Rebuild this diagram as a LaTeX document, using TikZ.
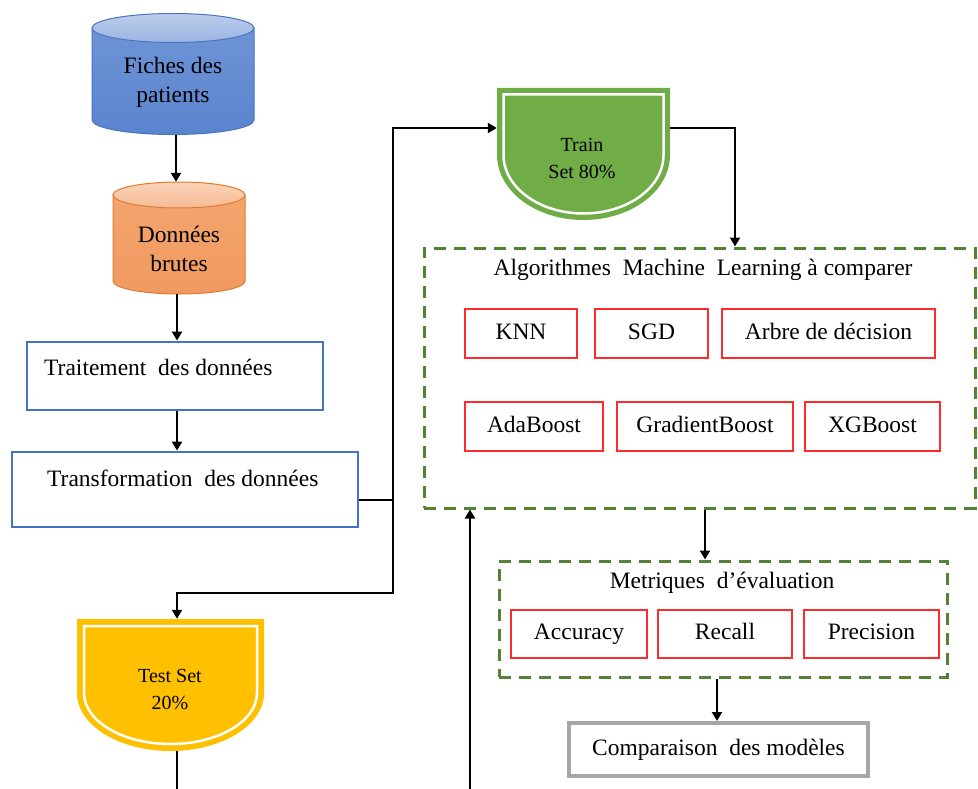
\documentclass[tikz,border=0pt]{standalone}
\usepackage{fontspec}
\setmainfont{Liberation Serif}
\usetikzlibrary{arrows.meta,calc}
\definecolor{boxblue}{HTML}{4472C4}
\definecolor{dgreen}{HTML}{548235}
\definecolor{tgreen}{HTML}{70AD47}
\definecolor{tyellow}{HTML}{FFC000}
\definecolor{rbox}{HTML}{FF2B2B}
\definecolor{gbox}{HTML}{A6A6A6}
\definecolor{blueT}{HTML}{6E94D6}
\definecolor{blueM}{HTML}{4472C4}
\definecolor{blueB}{HTML}{5A84CE}
\definecolor{blueE1}{HTML}{BCCDEB}
\definecolor{blueE2}{HTML}{9AB4E2}
\definecolor{blueL}{HTML}{4A74BE}
\definecolor{orT}{HTML}{F4A46E}
\definecolor{orM}{HTML}{E8792F}
\definecolor{orB}{HTML}{F09A60}
\definecolor{orE1}{HTML}{FAD3B8}
\definecolor{orE2}{HTML}{F5BB94}
\definecolor{orL}{HTML}{E07A33}
\begin{document}
\begin{tikzpicture}[x=1pt,y=-1pt,
  conn/.style={line width=2.6pt,black},
  arr/.style={conn,-{Triangle[width=10pt,length=9pt]}},
  txt/.style={font=\fontsize{23.5}{29}\selectfont,inner sep=0pt},
  stxt/.style={font=\fontsize{20}{27}\selectfont,inner sep=0pt,align=center},
  bluebox/.style={draw=boxblue,line width=2.8pt,fill=white,inner sep=0pt},
  redbox/.style={draw=rbox,line width=1.6pt,fill=white,inner sep=0pt,minimum height=49pt,
    text height=16pt,text depth=5pt,font=\fontsize{23.5}{29}\selectfont},
  dashbox/.style={draw=dgreen,line width=3pt,dash pattern=on 12pt off 8pt,inner sep=0pt},
  graybox/.style={draw=gbox,line width=4pt,fill=white,inner sep=0pt,
    text height=16pt,text depth=5pt,font=\fontsize{23.5}{29}\selectfont}
]
\useasboundingbox (0,0) rectangle (978,789);

% ---- Fiches des patients (cylinder)
\shade[top color=blueT,middle color=blueM,bottom color=blueB]
  (92,28) -- (92,120) arc[start angle=180,end angle=0,x radius=81,y radius=14.5] -- (254,28) -- cycle;
\draw[blueL,line width=1pt]
  (92,28) -- (92,120) arc[start angle=180,end angle=0,x radius=81,y radius=14.5] -- (254,28);
\shade[top color=blueE1,bottom color=blueE2,draw=blueL,line width=1pt] (173,28) ellipse[x radius=81,y radius=14.5];
\node[minimum width=162pt,minimum height=121.5pt,inner sep=0pt] (fiches) at (173,73.75) {};
\node[txt,align=center] (fichestxt) at (173,82) {Fiches des\\patients};

% ---- Donnees brutes (cylinder)
\shade[top color=orT,middle color=orM,bottom color=orB]
  (113,195) -- (113,281) arc[start angle=180,end angle=0,x radius=66,y radius=13] -- (245,195) -- cycle;
\draw[orL,line width=1pt]
  (113,195) -- (113,281) arc[start angle=180,end angle=0,x radius=66,y radius=13] -- (245,195);
\shade[top color=orE1,bottom color=orE2,draw=orL,line width=1pt] (179,195) ellipse[x radius=66,y radius=13];
\node[minimum width=132pt,minimum height=112pt,inner sep=0pt] (donnees) at (179,238) {};
\node[txt,align=center] (donneestxt) at (179,249) {Données\\brutes};

% ---- processing boxes
\node[bluebox,minimum width=296pt,minimum height=68pt] (trait) at (175,376) {};
\node[txt,anchor=west] (traittxt) at (44,367) {Traitement\ \ des données};
\node[bluebox,minimum width=346pt,minimum height=75pt] (trans) at (185,489.5) {};
\node[txt,anchor=west] (transtxt) at (47,478) {Transformation\ \ des données};

% ---- Train set shape
\fill[tgreen] (497,88) -- (670,88) -- (670,155) arc[start angle=0,end angle=180,x radius=86.5,y radius=65] -- cycle;
\draw[white,line width=2.5pt] (503.5,94.5) -- (663.5,94.5) -- (663.5,155) arc[start angle=0,end angle=180,x radius=80,y radius=58.5] -- cycle;
\node[minimum width=173pt,minimum height=132pt,inner sep=0pt] (train) at (583.5,154) {};
\node[stxt] (traintxt) at (582,158.5) {Train\\Set 80\%};

% ---- Test set shape
\fill[tyellow] (77,619) -- (264,619) -- (264,693) arc[start angle=0,end angle=180,x radius=93.5,y radius=58] -- cycle;
\draw[white,line width=2.5pt] (84,626) -- (257,626) -- (257,693) arc[start angle=0,end angle=180,x radius=86.5,y radius=51] -- cycle;
\node[minimum width=187pt,minimum height=132pt,inner sep=0pt] (test) at (170.5,685) {};
\node[stxt] (testtxt) at (170,689.5) {Test Set\\20\%};

% ---- Algorithms box
\node[dashbox,minimum width=551pt,minimum height=260pt] (algo) at (699.5,378) {};
\node[txt] (algotxt) at (703,270) {Algorithmes\ \ Machine\ \ Learning à comparer};
\node[redbox,minimum width=112pt] (knn) at (521,333.5) {KNN};
\node[redbox,minimum width=113pt] (sgd) at (651.5,333.5) {SGD};
\node[redbox,minimum width=213pt] (arbre) at (828.5,333.5) {Arbre de décision};
\node[redbox,minimum width=138pt] (ada) at (534,426.5) {AdaBoost};
\node[redbox,minimum width=176pt] (grad) at (705,426.5) {GradientBoost};
\node[redbox,minimum width=135pt] (xgb) at (872.5,426.5) {XGBoost};

% ---- Metrics box
\node[dashbox,minimum width=448pt,minimum height=116pt] (metr) at (723,619) {};
\node[txt] (metrtxt) at (722,583) {Metriques\ \ d’évaluation};
\node[redbox,minimum width=136pt,minimum height=48pt] (acc) at (579,634) {Accuracy};
\node[redbox,minimum width=134pt,minimum height=48pt] (rec) at (725,634) {Recall};
\node[redbox,minimum width=135pt,minimum height=48pt] (prec) at (871.5,634) {Precision};

% ---- Comparison box
\node[graybox,minimum width=299pt,minimum height=53pt] (comp) at (718.5,749.5) {Comparaison\ \ des modèles};

% ---- connectors
\coordinate (x176) at (176,0);
\coordinate (x177) at (177,0);
\draw[arr] (fiches.south -| x176) -- (donnees.north -| x176);
\draw[arr] (donnees.south -| x177) -- (trait.north -| x177);
\draw[arr] (trait.south -| x177) -- (trans.north -| x177);

\coordinate (b1) at (393,500);
\coordinate (b2) at (393,128);
\coordinate (b3) at (393,593);
\coordinate (b4) at (177,593);
\draw[arr] (trans.east |- b1) -- (b1) -- (b2) -- (train.west |- b2);
\draw[arr] (b1) -- (b3) -- (b4) -- (test.north -| b4);

\coordinate (tr) at (735,128);
\draw[arr] (train.east |- tr) -- (tr) -- (algo.north -| tr);

\coordinate (x705) at (705,0);
\draw[arr] (algo.south -| x705) -- (metr.north -| x705);
\coordinate (x717) at (717,0);
\draw[arr] (metr.south -| x717) -- (comp.north -| x717);

\coordinate (e1) at (177,789);
\draw[conn] (test.south -| e1) -- (e1);
\coordinate (e2) at (470,789);
\draw[arr] (e2) -- (algo.south -| e2);
\end{tikzpicture}
\end{document}
